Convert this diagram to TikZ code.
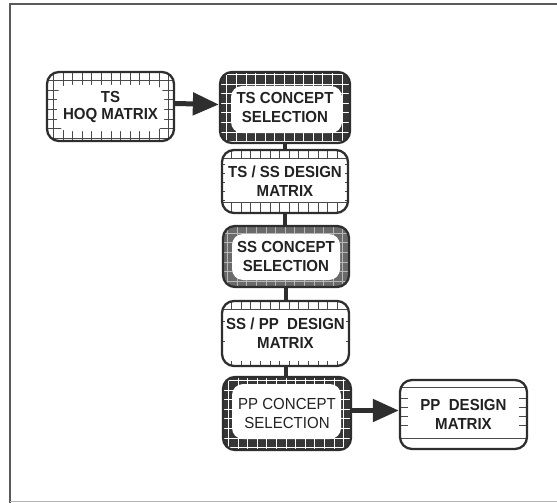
\documentclass[tikz,border=0pt]{standalone}
\usepackage{fontspec}
\setmainfont{Liberation Sans}[FakeStretch=0.94]
\usetikzlibrary{arrows.meta}
\definecolor{bordercol}{HTML}{2E2E2E}
\definecolor{textcol}{HTML}{222222}
\definecolor{darkband}{HTML}{363636}
\definecolor{midband}{HTML}{6A6A6A}
\definecolor{tickcol}{HTML}{4A4A4A}
\newcommand{\mygridband}[7]{% band colour, grid colour, grid width, L, B, R, T
  \fill[#1] (path picture bounding box.south west) rectangle (path picture bounding box.north east);
  \draw[draw=#2, line width=#3] (path picture bounding box.south west) grid[step=9.6pt] (path picture bounding box.north east);
  \fill[white, rounded corners=11pt] ([xshift=#4, yshift=#5]path picture bounding box.south west)
        rectangle ([xshift=-#6, yshift=-#7]path picture bounding box.north east);}
\newcommand{\mytopband}[2]{%
  \draw[tickcol, line width=0.8pt] ([yshift=-#1]path picture bounding box.north west) -- ([yshift=-#1]path picture bounding box.north east);
  \foreach \i in {1,...,#2} \draw[tickcol, line width=0.8pt] ([xshift=\i*9.6pt]path picture bounding box.north west) -- ++(0pt,-#1);}
\newcommand{\mybotband}[2]{%
  \draw[tickcol, line width=0.8pt] ([yshift=#1]path picture bounding box.south west) -- ([yshift=#1]path picture bounding box.south east);
  \foreach \i in {1,...,#2} \draw[tickcol, line width=0.8pt] ([xshift=\i*9.6pt]path picture bounding box.south west) -- ++(0pt,#1);}
\newcommand{\mybotticks}[2]{%
  \foreach \i in {1,...,#2} \draw[tickcol, line width=0.8pt] ([xshift=\i*9.6pt]path picture bounding box.south west) -- ++(0pt,#1);}
\newcommand{\mysideticks}[2]{% length, list of offsets from top
  \foreach \o in {#2} {
    \draw[tickcol, line width=0.8pt] ([yshift=-\o pt]path picture bounding box.north west) -- ++(#1,0pt);
    \draw[tickcol, line width=0.8pt] ([yshift=-\o pt]path picture bounding box.north east) -- ++(-#1,0pt);}}
\begin{document}
\begin{tikzpicture}[x=1pt,y=-1pt,
  box/.style={draw=bordercol, line width=2.3pt, rounded corners=12pt, inner sep=0pt, align=center,
    text=textcol, fill=white, font=\bfseries\fontsize{16}{19}\selectfont},
  conn/.style={draw=bordercol, line width=4pt},
  bigarrow/.style={draw=bordercol, line width=5pt, -{Triangle[length=26pt,width=22pt]}},
  framestyle/.style={draw=black!65, line width=2pt},
]
\useasboundingbox (0,0) rectangle (557,503);
% frame
\draw[framestyle] (10,503) -- (10,4) -- (557,4);
\draw[draw=black!30, line width=1pt] (10,501.5) -- (557,501.5);

% boxes
\node[box, minimum width=127pt, minimum height=69pt,
      path picture={\mygridband{white}{tickcol}{0.7pt}{10pt}{10pt}{10pt}{13pt}}]
      (hoq) at (110.5,106.5) {TS\\[-2pt]HOQ MATRIX};
\node[box, minimum width=130pt, minimum height=71pt,
      path picture={\mygridband{darkband}{white}{1.1pt}{11pt}{10pt}{8pt}{14pt}}]
      (tsc) at (285,107.5) {TS CONCEPT\\SELECTION};
\node[box, minimum width=126pt, minimum height=63pt, path picture={
      \mytopband{8pt}{12}\mybotband{11pt}{12}\mysideticks{3pt}{14,23,32,41,50}}]
      (tss) at (285,181.5) {TS / SS DESIGN\\MATRIX};
\node[box, minimum width=126pt, minimum height=61pt,
      path picture={\mygridband{midband}{black!28}{0.8pt}{9pt}{7pt}{9pt}{8pt}}]
      (ssc) at (286,256.5) {SS CONCEPT\\SELECTION};
\node[box, minimum width=127pt, minimum height=65pt, path picture={
      \mytopband{8pt}{12}\mybotticks{5pt}{12}\mysideticks{3pt}{20,40}}]
      (sspp) at (285.5,333.5) {SS / PP\ \ DESIGN\\MATRIX};
\node[box, minimum width=128pt, minimum height=73pt, font=\mdseries\fontsize{16}{19}\selectfont,
      path picture={\mygridband{darkband}{white}{1.1pt}{9pt}{11pt}{10pt}{7pt}}]
      (ppc) at (287,413.5) {PP CONCEPT\\SELECTION};
\node[box, minimum width=127pt, minimum height=69pt, path picture={
      \draw[tickcol, line width=0.9pt] ([yshift=-7pt]path picture bounding box.north west) -- ([yshift=-7pt]path picture bounding box.north east);
      \draw[tickcol, line width=0.9pt] ([yshift=11pt]path picture bounding box.south west) -- ([yshift=11pt]path picture bounding box.south east);
      \mysideticks{8pt}{18,27,36,45}}]
      (ppd) at (463.5,414.5) {PP\ \ DESIGN\\MATRIX};

% connectors
\draw[bigarrow] ([yshift=3pt]hoq.east) -- ([yshift=3pt]tsc.west);
\draw[conn] (tsc.south) -- (tsc.south |- tss.north);
\draw[conn] (tss.south) -- (tss.south |- ssc.north);
\draw[conn] (ssc.south) -- (ssc.south |- sspp.north);
\draw[conn] (sspp.south) -- (sspp.south |- ppc.north);
\draw[bigarrow] ([yshift=3pt]ppc.east) -- ([yshift=3pt]ppc.east -| ppd.west);
\end{tikzpicture}
\end{document}
